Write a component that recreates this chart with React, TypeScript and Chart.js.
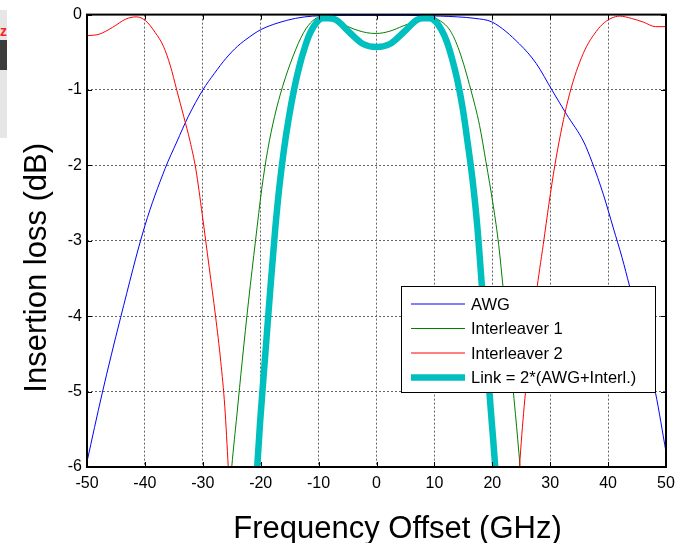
import React, { useEffect, useRef } from "react";
import { Chart, registerables } from "chart.js";

Chart.register(...registerables);

// ---------- data ----------
const awgFreq = [-50, -47.4, -44.2, -40, -36.5, -34.5, -32.5, -30, -28, -26, -24, -22, -20, -17, -14, -11, -5, 0, 5, 11, 14, 17, 20, 24.7, 27.6, 30.3, 32.8, 35.8, 37.2, 39.2, 40.9, 42.4, 43.7, 46, 48.2, 50];
const awgLoss = [-5.93, -5.03, -4.02, -2.8, -2.04, -1.69, -1.35, -1.0, -0.78, -0.58, -0.42, -0.3, -0.2, -0.11, -0.05, -0.02, -0.01, -0.01, -0.01, -0.02, -0.03, -0.05, -0.1, -0.39, -0.65, -1.0, -1.32, -1.69, -1.95, -2.39, -2.83, -3.22, -3.6, -4.3, -5.02, -5.8];

const int1Freq = [-25.3, -25.0, -24.1, -23.2, -22.1, -20.9, -19.8, -18.8, -17.6, -16.2, -14.4, -12.6, -11.0, -9.5, -8.3, -7, -4.6, -1.7, 0, 2.3, 4.6, 7, 8.7, 10.5, 12.7, 14.3, 16.3, 17.8, 18.9, 20.2, 21.1, 21.9, 23, 24, 24.8, 25.1];
const int1Loss = [-6.3, -6.0, -5.3, -4.6, -3.8, -3.0, -2.3, -1.8, -1.35, -0.95, -0.55, -0.24, -0.08, -0.02, 0, -0.07, -0.17, -0.24, -0.25, -0.22, -0.15, -0.08, -0.02, -0.06, -0.21, -0.48, -1.0, -1.47, -1.95, -2.55, -3.05, -3.65, -4.5, -5.3, -6.0, -6.3];

const int2Freq = [-50, -47.9, -45.6, -43.3, -41.5, -39.9, -38.2, -36.8, -35.6, -34.5, -33.3, -32.2, -31.2, -30.1, -28.9, -27.8, -26.9, -26.2, -25.6, -25.3, 24.4, 24.7, 25.5, 26.5, 27.6, 28.8, 29.8, 30.8, 31.8, 32.8, 33.9, 35.1, 36.3, 37.6, 39, 40.5, 42, 44, 46.1, 48.2, 50];
const int2Loss = [-0.28, -0.26, -0.17, -0.06, -0.03, -0.08, -0.24, -0.42, -0.68, -1.0, -1.35, -1.68, -2.05, -2.65, -3.35, -4.0, -4.6, -5.2, -6.0, -6.4, -6.4, -6.0, -5.2, -4.45, -3.7, -3.05, -2.5, -2.0, -1.58, -1.22, -0.9, -0.63, -0.42, -0.26, -0.13, -0.05, -0.02, -0.05, -0.1, -0.16, -0.16];

const linkFreq = [-20.9, -20.6, -20.1, -19.2, -18.3, -17.5, -16.8, -16.0, -15.1, -14.2, -13.3, -12.4, -11.5, -10.4, -9.3, -8.5, -7, -4.6, -2.3, 0, 2.3, 4.6, 7, 8.1, 9.2, 10.3, 11.2, 12.1, 13.0, 14.0, 14.9, 15.8, 16.6, 17.4, 18.2, 19.0, 19.8, 20.5, 20.8];
const linkLoss = [-6.4, -6.0, -5.4, -4.5, -3.6, -2.85, -2.3, -1.8, -1.35, -0.98, -0.68, -0.44, -0.25, -0.11, -0.05, -0.05, -0.07, -0.24, -0.39, -0.43, -0.39, -0.24, -0.07, -0.05, -0.05, -0.1, -0.2, -0.35, -0.57, -0.88, -1.25, -1.73, -2.2, -2.8, -3.6, -4.5, -5.3, -6.0, -6.4];

const seriesLabels = ["AWG", "Interleaver 1", "Interleaver 2", "Link = 2*(AWG+Interl.)"];
const seriesColors = ["#0000ff", "#008000", "#ff0000", "#00bfbf"];
const seriesWidths = [1, 1, 1, 6.5];

const xTickValues = [-50, -40, -30, -20, -10, 0, 10, 20, 30, 40, 50];
const yTickValues = [-6, -5, -4, -3, -2, -1, 0];

const xTitle = "Frequency Offset (GHz)";
const yTitle = "Insertion loss (dB)";

const FONT = "'Liberation Sans', Arial, Helvetica, sans-serif";

function pts(xs: number[], ys: number[]) {
  return xs.map((x, i) => ({ x, y: ys[i] }));
}

// MATLAB-like frame, inward ticks, axis titles and legend
const matlabPlugin = {
  id: "matlabFrame",
  afterDatasetsDraw(chart: any) {
    const { ctx, chartArea } = chart;
    const { left, right, top, bottom } = chartArea;
    const xs = chart.scales.x;
    const ys = chart.scales.y;
    ctx.save();
    ctx.strokeStyle = "#000";
    ctx.lineWidth = 1;
    const tl = 5;
    ctx.beginPath();
    xTickValues.forEach((v) => {
      const px = Math.round(xs.getPixelForValue(v)) + 0.5;
      ctx.moveTo(px, bottom);
      ctx.lineTo(px, bottom - tl);
      ctx.moveTo(px, top);
      ctx.lineTo(px, top + tl);
    });
    yTickValues.forEach((v) => {
      const py = Math.round(ys.getPixelForValue(v)) + 0.5;
      ctx.moveTo(left, py);
      ctx.lineTo(left + tl, py);
      ctx.moveTo(right, py);
      ctx.lineTo(right - tl, py);
    });
    ctx.stroke();
    ctx.lineWidth = 2;
    ctx.strokeRect(left, top, right - left, bottom - top);
    ctx.restore();
  },
  afterDraw(chart: any) {
    const { ctx, chartArea } = chart;
    const { left, right, top, bottom } = chartArea;
    ctx.save();
    // axis titles
    ctx.fillStyle = "#000";
    ctx.font = `31px ${FONT}`;
    ctx.textAlign = "center";
    ctx.textBaseline = "alphabetic";
    ctx.fillText(xTitle, (left + right) / 2 + 21, bottom + 71);
    ctx.save();
    ctx.translate(left - 41, (top + bottom) / 2 + 27);
    ctx.rotate(-Math.PI / 2);
    ctx.fillText(yTitle, 0, 0);
    ctx.restore();

    // legend
    const w = 254;
    const h = 106;
    const lx = right - 11 - w;
    const ly = bottom - 75 - h;
    ctx.fillStyle = "#fff";
    ctx.fillRect(lx, ly, w, h);
    ctx.strokeStyle = "#000";
    ctx.lineWidth = 1;
    ctx.strokeRect(Math.round(lx) + 0.5, Math.round(ly) + 0.5, w, h);
    ctx.font = `16.5px ${FONT}`;
    ctx.textAlign = "left";
    ctx.textBaseline = "middle";
    chart.data.datasets.forEach((ds: any, i: number) => {
      const rowY = ly + 18 + i * 24.5;
      ctx.strokeStyle = ds.borderColor;
      ctx.lineWidth = ds.borderWidth;
      ctx.beginPath();
      ctx.moveTo(lx + 10, rowY);
      ctx.lineTo(lx + 64, rowY);
      ctx.stroke();
      ctx.fillStyle = "#000";
      ctx.fillText(ds.label, lx + 70, rowY + 1);
    });
    ctx.restore();
  },
};

export default function App() {
  const canvasRef = useRef<HTMLCanvasElement | null>(null);

  useEffect(() => {
    if (!canvasRef.current) return;
    Chart.defaults.font.family = FONT;
    const seriesData = [
      pts(awgFreq, awgLoss),
      pts(int1Freq, int1Loss),
      pts(int2Freq, int2Loss),
      pts(linkFreq, linkLoss),
    ];
    const chart = new Chart(canvasRef.current, {
      type: "line",
      data: {
        datasets: seriesData.map((d, i) => ({
          label: seriesLabels[i],
          data: d,
          borderColor: seriesColors[i],
          backgroundColor: seriesColors[i],
          borderWidth: seriesWidths[i],
          pointRadius: 0,
          fill: false,
          cubicInterpolationMode: "monotone",
          clip: 0,
          order: i === 3 ? 0 : 4 - i,
        })),
      },
      options: {
        animation: false,
        responsive: false,
        devicePixelRatio: 1,
        layout: { padding: { left: 0, top: 12, right: 17, bottom: 0 } },
        plugins: {
          legend: { display: false },
          tooltip: { enabled: false },
        },
        scales: {
          x: {
            type: "linear",
            min: -50,
            max: 50,
            afterBuildTicks: (s: any) => {
              s.ticks = xTickValues.map((v) => ({ value: v }));
            },
            afterFit: (s: any) => {
              s.height = 76;
            },
            ticks: {
              color: "#000",
              font: { size: 16, family: FONT },
              padding: 7,
              maxRotation: 0,
              autoSkip: false,
            },
            grid: { color: "#666", lineWidth: 1, drawTicks: false },
            border: { display: false, dash: [2, 2] },
          },
          y: {
            type: "linear",
            min: -6,
            max: 0,
            afterBuildTicks: (s: any) => {
              s.ticks = yTickValues.map((v) => ({ value: v }));
            },
            afterFit: (s: any) => {
              s.width = 87;
            },
            ticks: {
              color: "#000",
              font: { size: 16, family: FONT },
              padding: 5,
              autoSkip: false,
            },
            grid: { color: "#666", lineWidth: 1, drawTicks: false },
            border: { display: false, dash: [2, 2] },
          },
        },
      },
      plugins: [matlabPlugin],
    } as any);
    return () => chart.destroy();
  }, []);

  return (
    <div style={{ position: "fixed", left: 0, top: 0, width: 683, height: 543, background: "#fff" }}>
      <canvas ref={canvasRef} width={683} height={543} style={{ display: "block", width: 683, height: 543 }} />
      <div style={{ position: "absolute", left: 0, top: 10, width: 7, height: 128, background: "#e6e6e6" }} />
      <div style={{ position: "absolute", left: 0, top: 40, width: 7, height: 30, background: "#3c3c3c" }} />
      <div style={{ position: "absolute", left: 0, top: 26, width: 7, height: 14, overflow: "hidden" }}>
        <span style={{ position: "absolute", right: 0, top: -3, color: "#ff2020", fontWeight: "bold", fontSize: 14, fontFamily: FONT }}>z</span>
      </div>
    </div>
  );
}
